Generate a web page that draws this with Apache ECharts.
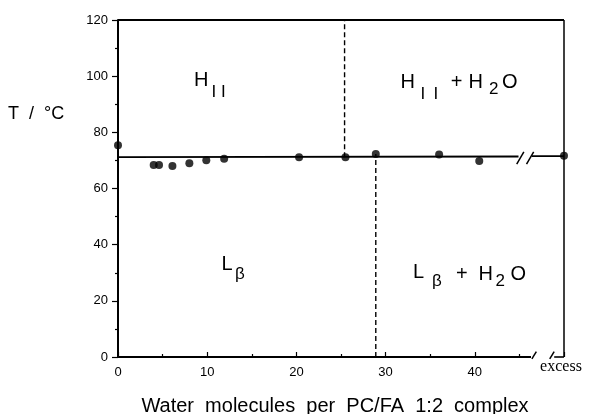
<!DOCTYPE html>
<html><head><meta charset="utf-8">
<script src="https://cdn.jsdelivr.net/npm/echarts@6/dist/echarts.min.js"></script>
<style>html,body{margin:0;padding:0;background:#fff}#c{width:592px;height:414px}</style>
</head><body><div id="c"></div>
<script>
// ---- data ----
const waterMolecules = [0, 4.0, 4.6, 6.1, 8.0, 9.9, 11.9, 20.3, 25.5, 28.9, 36.0, 40.5, 50];
const transitionT    = [75.4, 68.4, 68.4, 68.0, 69.0, 70.1, 70.6, 71.1, 71.1, 72.3, 72.1, 69.8, 71.7];
const xTickLabels = [0, 10, 20, 30, 40];
const yTickLabels = [0, 20, 40, 60, 80, 100, 120];
const excessLabel = 'excess';
const xTitle = 'Water  molecules  per  PC/FA  1:2  complex';
const yTitle = 'T  /  °C';
// phase-boundary lines (x in water molecules, y in °C)
const transLineLeftX  = [0, 44.9];
const transLineLeftT  = [71.2, 71.4];
const transLineRightX = [46.4, 50];
const transLineRightT = [71.5, 71.5];
const hexBoundaryX = [25.4, 25.4];
const hexBoundaryT = [71.1, 120];
const gelBoundaryX = [28.9, 28.9];
const gelBoundaryT = [0, 72.3];
// frame and axis-break pieces
const axisLeftX = [0, 46.3],  axisLeftT = [0, 0];
const axisRightX = [48.9, 50], axisRightT = [0, 0];
const frameTopX = [0, 50],    frameTopT = [120, 120];
const frameRightX = [50, 50], frameRightT = [0, 120];
const breakLine1X = [44.7, 45.5], breakLine1T = [68.7, 73.0];
const breakLine2X = [45.8, 46.6], breakLine2T = [68.7, 73.0];
const breakAxis1X = [46.4, 46.9], breakAxis1T = [-0.7, 1.9];
const breakAxis2X = [48.4, 48.9], breakAxis2T = [-0.7, 1.9];

const zip = (xs, ys) => xs.map((x, i) => [x, ys[i]]);
const FONT = "'Liberation Sans', Arial, sans-serif";

function seg(xs, ys, width, type) {
  return {
    type: 'line', data: zip(xs, ys), showSymbol: false, symbol: 'none',
    clip: false, silent: true, animation: false, z: 3,
    lineStyle: { color: '#000', width: width, type: type || 'solid' }
  };
}

// region-label pieces: text, left x, cap top, font size
const labelPieces = [
  ['H', 194, 73, 20], ['I', 211.5, 86, 17], ['I', 221, 86, 17],
  ['H', 400.5, 75, 20], ['I', 420.5, 88, 17], ['I', 433.5, 88, 17],
  ['+', 450.7, 75, 20], ['H', 468.5, 75, 20], ['2', 489, 83, 17], ['O', 502, 75, 20],
  ['L', 221.5, 257, 20], ['β', 235, 268, 17],
  ['L', 413, 265, 20], ['β', 432, 275, 17], ['+', 456, 267, 20],
  ['H', 478.5, 267, 20], ['2', 495.5, 275, 17], ['O', 510.5, 267, 20]
];
function capText(t, x, capTop, size, family, align) {
  return {
    type: 'text', silent: true, z: 10,
    style: {
      text: t, x: x, y: capTop - 0.13 * size,
      font: size + 'px ' + (family || FONT), fill: '#000',
      align: align || 'left', verticalAlign: 'top'
    }
  };
}
const graphics = labelPieces.map(p => capText(p[0], p[1], p[2], p[3]));
graphics.push(capText(yTitle, 8, 107, 18));
graphics.push(capText(xTitle, 335, 399, 20, FONT, 'center'));
graphics.push(capText(excessLabel, 561, 361, 16, "'Liberation Serif', 'Times New Roman', serif", 'center'));

const chart = echarts.init(document.getElementById('c'), null, { renderer: 'canvas' });
chart.setOption({
  animation: false,
  backgroundColor: '#fff',
  grid: { left: 118, right: 28, top: 20, bottom: 57 },
  xAxis: {
    type: 'value', min: 0, max: 50, interval: 10,
    axisLine: { show: false },
    axisTick: { show: true, inside: true, length: 5, lineStyle: { color: '#000', width: 1.2 } },
    minorTick: { show: true, splitNumber: 2, length: 3, lineStyle: { color: '#000', width: 1.2 } },
    splitLine: { show: false },
    axisLabel: {
      margin: 9, color: '#000', fontFamily: FONT, fontSize: 13,
      formatter: v => xTickLabels.includes(v) ? String(v) : ''
    }
  },
  yAxis: {
    type: 'value', min: 0, max: 120, interval: 20,
    axisLine: { show: true, lineStyle: { color: '#000', width: 2 } },
    axisTick: { show: true, inside: false, length: 6, lineStyle: { color: '#000', width: 1.2 } },
    minorTick: { show: true, splitNumber: 2, length: 3, lineStyle: { color: '#000', width: 1.2 } },
    splitLine: { show: false },
    axisLabel: {
      margin: 10, color: '#000', fontFamily: FONT, fontSize: 13,
      formatter: v => yTickLabels.includes(v) ? String(v) : ''
    }
  },
  graphic: graphics,
  series: [
    seg(axisLeftX, axisLeftT, 2),
    seg(axisRightX, axisRightT, 1.6),
    seg(frameTopX, frameTopT, 1.8),
    seg(frameRightX, frameRightT, 1.5),
    seg(transLineLeftX, transLineLeftT, 1.8),
    seg(transLineRightX, transLineRightT, 1.8),
    seg(breakLine1X, breakLine1T, 1.5),
    seg(breakLine2X, breakLine2T, 1.5),
    seg(breakAxis1X, breakAxis1T, 1.5),
    seg(breakAxis2X, breakAxis2T, 1.5),
    seg(hexBoundaryX, hexBoundaryT, 1.4, [5, 3]),
    seg(gelBoundaryX, gelBoundaryT, 1.4, [5, 3]),
    {
      type: 'scatter', data: zip(waterMolecules, transitionT),
      symbol: 'circle', symbolSize: 8, clip: false, z: 5,
      itemStyle: { color: '#000' }, silent: true
    }
  ]
});
</script>
</body></html>
